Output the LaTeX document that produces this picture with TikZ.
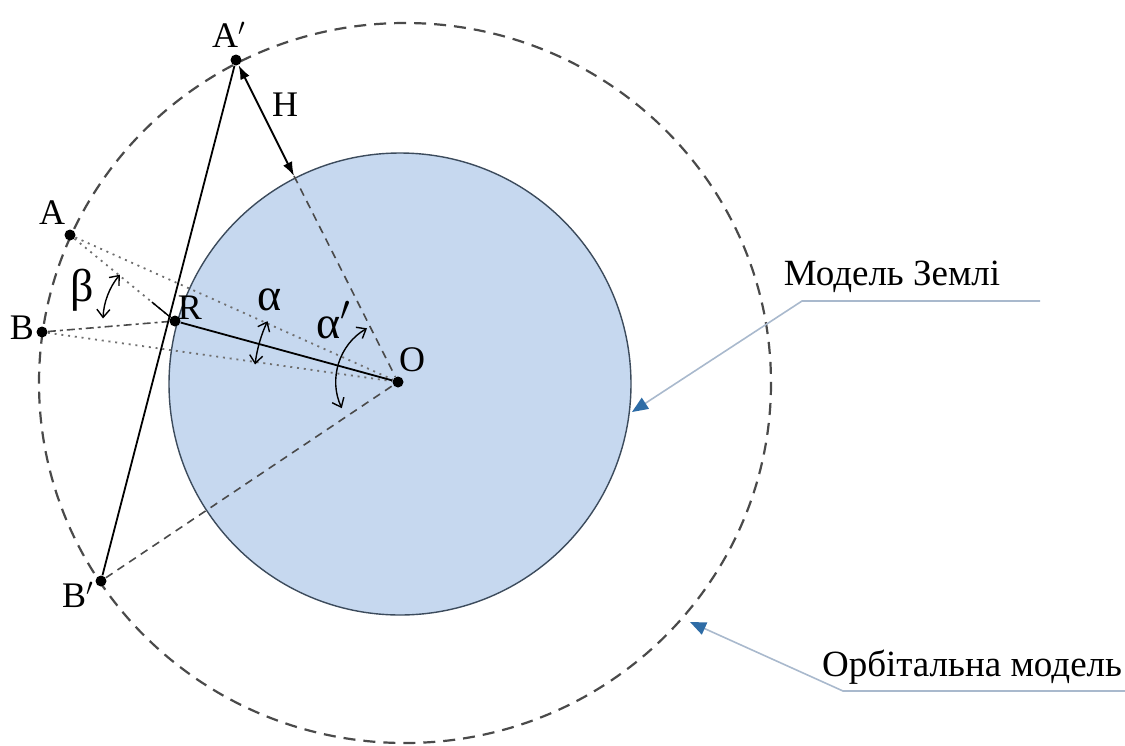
\documentclass[tikz,border=0pt]{standalone}
\usepackage{fontspec}
\setmainfont{Liberation Serif}
\usepackage{tikz}
\usetikzlibrary{arrows.meta, positioning, calc}
\definecolor{earthblue}{HTML}{C6D8EF}
\definecolor{earthedge}{HTML}{3C4B5C}
\definecolor{orbitgray}{HTML}{4A4A4A}
\definecolor{dotgray}{HTML}{707070}
\definecolor{calloutline}{HTML}{A9B9CD}
\definecolor{callouttip}{HTML}{2E6CA6}

\begin{document}
\begin{tikzpicture}[
        x=0.5pt, y=-0.5pt,
        pnt/.style={circle, fill=black, inner sep=0pt, minimum size=5.5pt},
        lbl/.style={inner sep=1pt, font=\fontsize{18}{20}\selectfont},
        greek/.style={inner sep=1pt, font=\fontsize{23}{25}\selectfont},
        note/.style={inner sep=1pt, font=\fontsize{18.5}{21}\selectfont},
        earth/.style={draw=earthedge, line width=0.7pt, fill=earthblue},
        orbit/.style={draw=orbitgray, line width=1.1pt, dash pattern=on 6pt off 4pt},
        radial/.style={draw=orbitgray, line width=0.8pt, dash pattern=on 4pt off 3pt},
        sight/.style={draw=dotgray, line width=0.9pt, dash pattern=on 1pt off 2.4pt},
        dashdot/.style={draw=orbitgray, line width=0.8pt, dash pattern=on 4pt off 2pt on 1.5pt off 2pt},
        solid line/.style={draw=black, line width=0.9pt},
        harrow/.style={line width=0.9pt, <->, >={Latex[length=7pt,width=5pt]}},
        anglearc/.style={line width=0.7pt, <->, >={Straight Barb[length=4pt,width=6.5pt]}},
        callout/.style={draw=calloutline, line width=0.8pt,
                        -{Triangle[length=8pt,width=6.5pt,color=callouttip]}},
    ]
        \useasboundingbox (0,0) rectangle (1125,745);

        % Earth and orbit
        \draw[earth] (400,384) circle [radius=231];
        \draw[orbit] (405,383) ellipse [x radius=366, y radius=360];

        % points
        \node[pnt] (O)  at (398,382) {};
        \node[pnt] (R)  at (175,321) {};
        \node[pnt] (Ap) at (236,60)  {};
        \node[pnt] (A)  at (70,235)  {};
        \node[pnt] (B)  at (42,332)  {};
        \node[pnt] (Bp) at (101,581) {};
        \coordinate (S) at (294,176);

        % lines of sight
        \draw[sight] (A) -- (O);
        \draw[sight] (B) -- (O);
        \draw[sight] (A) -- (R);
        \draw[solid line, line width=0.7pt] ($(R)!0.22!(A)$) -- (R);
        \draw[dashdot] (B) -- (R);
        \draw[solid line] (R) -- (O);
        \draw[solid line] (Ap) -- (Bp);
        \draw[radial] (S) -- (O);
        \draw[radial] (Bp) -- (O);
        \draw[harrow] (Ap) -- (S);

        % angles
        \draw[anglearc] ($(R)+(-140:72)$) arc [start angle=-140, end angle=-178, radius=72];
        \draw[anglearc] ($(O)+(-155:144)$) arc [start angle=-155, end angle=-173, radius=144];
        \draw[anglearc] ($(O)+(-120:62)$) arc [start angle=-120, end angle=-205, radius=62];

        % labels
        \node[lbl] (labAp) at (229,35)  {A$'$};
        \node[lbl] (labA)  at (52,213)  {A};
        \node[lbl] (labB)  at (22,328)  {B};
        \node[lbl] (labBp) at (78,595)  {B$'$};
        \node[lbl] (labR)  at (190,308) {R};
        \node[lbl] (labO)  at (412,360) {O};
        \node[lbl] (labH)  at (285,105) {H};
        \node[greek] (labbeta)   at (82,290)  {β};
        \node[greek] (labalpha)  at (270,300) {α};
        \node[greek] (labalphap) at (334,320) {α$'$};

        % callouts
        \node[note] (zemlia) at (892,277) {Модель Землі};
        \coordinate (zemliaEnd)  at (1040,301);
        \coordinate (zemliaKnee) at (802,301);
        \coordinate (zemliaTip)  at (632,412);
        \draw[callout] (zemliaEnd) -- (zemliaKnee) -- (zemliaTip);

        \node[note] (orbita) at (972,667) {Орбітальна модель};
        \coordinate (orbitaEnd)  at (1125,691);
        \coordinate (orbitaKnee) at (843,691);
        \coordinate (orbitaTip)  at (690,622);
        \draw[callout] (orbitaEnd) -- (orbitaKnee) -- (orbitaTip);
    \end{tikzpicture}
\end{document}
